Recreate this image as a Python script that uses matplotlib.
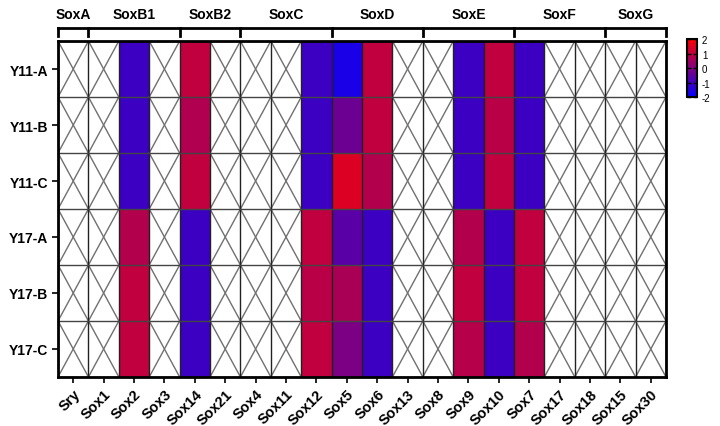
import numpy as np
import matplotlib; matplotlib.use("Agg")
import matplotlib.pyplot as plt
from matplotlib.colors import LinearSegmentedColormap
from matplotlib.transforms import blended_transform_factory

plt.rcParams.update({"font.family": ["Liberation Sans", "DejaVu Sans"], "font.weight": "bold",
                     "axes.unicode_minus": False})

genes = ["Sry", "Sox1", "Sox2", "Sox3", "Sox14", "Sox21", "Sox4", "Sox11", "Sox12",
         "Sox5", "Sox6", "Sox13", "Sox8", "Sox9", "Sox10", "Sox7", "Sox17", "Sox18",
         "Sox15", "Sox30"]
samples = ["Y11-A", "Y11-B", "Y11-C", "Y17-A", "Y17-B", "Y17-C"]
groups = ["SoxA", "SoxB1", "SoxB2", "SoxC", "SoxD", "SoxE", "SoxF", "SoxG"]
group_sizes = [1, 3, 2, 3, 3, 3, 3, 2]

# expression per gene (rows = samples); genes not listed are missing
measured = {
    "Sox2":  [-1.05, -1.05, -1.05, 0.8, 1.0, 1.0],
    "Sox14": [1.0, 0.75, 1.0, -1.05, -1.05, -1.05],
    "Sox12": [-1.05, -1.05, -1.05, 1.0, 0.9, 1.0],
    "Sox5":  [-1.6, -0.3, 1.45, -0.6, 0.65, -0.05],
    "Sox6":  [1.0, 1.0, 0.8, -1.05, -1.05, -1.05],
    "Sox9":  [-1.05, -1.05, -1.05, 0.8, 1.0, 0.85],
    "Sox10": [1.0, 0.9, 1.0, -1.05, -1.05, -1.05],
    "Sox7":  [-1.05, -1.05, -1.05, 1.0, 1.0, 0.8],
}

data = np.full((len(samples), len(genes)), np.nan)
for g, vals in measured.items():
    data[:, genes.index(g)] = vals

cmap = LinearSegmentedColormap.from_list("bpr", ["#0000ff", "#800080", "#ff0000"])

fig = plt.figure(figsize=(7.2, 4.27), dpi=100)
ax = fig.add_axes([0.0806, 0.1148, 0.8444, 0.7868])
im = ax.imshow(data, cmap=cmap, vmin=-2, vmax=2, aspect="auto", interpolation="nearest")

nr, nc = data.shape
# crosses for missing cells
for i in range(nr):
    for j in range(nc):
        if np.isnan(data[i, j]):
            ax.plot([j - 0.5, j + 0.5], [i - 0.5, i + 0.5], color="#707070", lw=1)
            ax.plot([j - 0.5, j + 0.5], [i + 0.5, i - 0.5], color="#707070", lw=1)
# grid
for j in range(nc + 1):
    ax.axvline(j - 0.5, color="#222222", lw=1)
for i in range(nr + 1):
    ax.axhline(i - 0.5, color="#444444", lw=1)
ax.set_xlim(-0.5, nc - 0.5)
ax.set_ylim(nr - 0.5, -0.5)

ax.set_xticks(range(nc))
ax.set_xticklabels(genes, rotation=45, ha="right", rotation_mode="anchor", fontsize=10.5)
ax.set_yticks(range(nr))
ax.set_yticklabels(samples, fontsize=10)
ax.tick_params(length=4, width=1.2, pad=3)
for s in ax.spines.values():
    s.set_linewidth(2)

# group brackets on top
tr = blended_transform_factory(ax.transData, ax.transAxes)
edges = np.concatenate([[0], np.cumsum(group_sizes)]) - 0.5
ax.plot([edges[0], edges[-1]], [1.039, 1.039], color="black", lw=2, transform=tr, clip_on=False)
for e in edges:
    ax.plot([e, e], [1.039, 1.016], color="black", lw=2, transform=tr, clip_on=False)
for k, g in enumerate(groups):
    ax.text((edges[k] + edges[k + 1]) / 2, 1.08, g, transform=tr, ha="center", va="center",
            fontsize=10, fontweight="bold")

cax = fig.add_axes([0.954, 0.770, 0.014, 0.136])
cb = fig.colorbar(im, cax=cax, ticks=[-2, -1, 0, 1, 2])
cb.ax.tick_params(labelsize=7, length=3, width=1, direction="in", left=True)
cb.outline.set_linewidth(1.5)
for t in cb.ax.get_yticklabels():
    t.set_fontweight("normal")

fig.savefig("out.png", dpi=100)
